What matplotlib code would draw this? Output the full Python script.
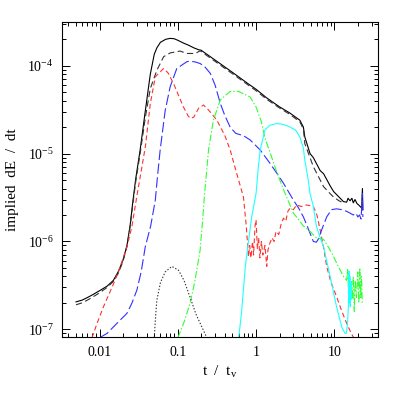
import numpy as np
import matplotlib
matplotlib.use('Agg')
import matplotlib.pyplot as plt
from matplotlib.ticker import LogLocator, FuncFormatter, NullFormatter

# total (solid black)
t_tot = [0.005, 0.006, 0.007, 0.008, 0.01, 0.0125, 0.015, 0.0175, 0.02, 0.0224, 0.0245, 0.0267, 0.029,
         0.033, 0.0385, 0.0445, 0.05, 0.054, 0.06, 0.07, 0.08, 0.09, 0.1, 0.12, 0.136, 0.16, 0.185,
         0.2, 0.21, 0.3, 0.5, 0.8, 1.0, 1.37, 2.0, 2.7, 3.3, 3.63, 4.03, 4.2, 4.9, 5.4, 6.6,
         7.3, 8.85, 9.8, 11.9, 13.1, 14.4, 15.0, 15.9, 16.8, 17.5, 18.4, 19.5, 20.5, 21.4,
         22.4, 22.9, 23.2]
e_tot = [2.05e-7, 2.15e-7, 2.3e-7, 2.45e-7, 2.75e-7, 3.1e-7, 3.6e-7, 4.6e-7, 6.2e-7, 9.0e-7, 1.5e-6, 2.9e-6, 5.2e-6,
         1.1e-5, 3.1e-5, 8.0e-5, 1.35e-4, 1.6e-4, 1.85e-4, 2.0e-4, 2.05e-4, 2.03e-4, 1.95e-4, 1.8e-4, 1.72e-4, 1.6e-4, 1.52e-4,
         1.5e-4, 1.45e-4, 1.16e-4, 8.4e-5, 6.2e-5, 5.4e-5, 4.3e-5, 3.4e-5, 2.9e-5, 2.55e-5, 2.4e-5, 2.0e-5, 1.55e-5, 1.0e-5, 9.0e-6, 6.4e-6,
         5.9e-6, 4.3e-6, 3.7e-6, 3.1e-6, 2.84e-6, 2.8e-6, 3.1e-6, 2.9e-6, 3.1e-6, 2.75e-6, 3.0e-6, 2.7e-6, 2.6e-6, 2.5e-6,
         2.4e-6, 4.0e-6, 2.3e-6]

# black dashed
t_bd = [0.005, 0.006, 0.007, 0.008, 0.01, 0.0125, 0.015, 0.0175, 0.02, 0.0224, 0.0245, 0.0267, 0.029,
        0.033, 0.0385, 0.0445, 0.054, 0.066, 0.08, 0.107, 0.13, 0.167, 0.193, 0.3, 0.5, 0.8, 1.0,
        1.37, 2.0, 2.7, 3.3, 3.63, 4.03, 4.2, 5.4, 7.3, 8.85, 9.8, 11.5, 12.5]
e_bd = [1.9e-7, 2.0e-7, 2.15e-7, 2.3e-7, 2.6e-7, 3.0e-7, 3.5e-7, 4.4e-7, 6.0e-7, 8.8e-7, 1.45e-6, 2.7e-6, 4.8e-6,
        1.0e-5, 2.6e-5, 5.5e-5, 8.9e-5, 1.27e-4, 1.4e-4, 1.47e-4, 1.38e-4, 1.38e-4, 1.48e-4, 1.12e-4, 8.1e-5, 6.0e-5, 5.2e-5,
        4.15e-5, 3.3e-5, 2.8e-5, 2.45e-5, 2.3e-5, 1.9e-5, 1.3e-5, 7.1e-6, 4.2e-6, 3.5e-6, 3.2e-6, 2.9e-6, 2.8e-6]

# red short dashed
t_red = [0.008, 0.0093, 0.0112, 0.0151, 0.0184, 0.0224, 0.0259, 0.0294, 0.0385, 0.0445, 0.0516,
         0.0657, 0.075, 0.088, 0.1, 0.118, 0.135, 0.144, 0.16, 0.185, 0.213, 0.25, 0.316, 0.4,
         0.467, 0.55, 0.69, 0.75, 0.8, 0.83, 0.86, 0.9, 0.93, 0.97, 1.0, 1.04, 1.08, 1.12, 1.17,
         1.22, 1.3, 1.37, 1.42, 1.5, 1.6, 1.7, 1.8, 1.95, 2.1, 2.24, 2.4, 2.55, 2.73, 3.0, 3.3,
         3.8, 4.4, 5.0, 5.4, 6.0, 6.6, 7.3, 8.0, 9.0, 10.7, 12.5, 14.4, 16.0, 17.7]
e_red = [8.0e-8, 1.17e-7, 1.8e-7, 3.3e-7, 5.2e-7, 8.7e-7, 1.48e-6, 2.96e-6, 1.2e-5, 3.7e-5, 7.5e-5,
         9.3e-5, 8.3e-5, 6.3e-5, 4.8e-5, 3.4e-5, 2.7e-5, 2.52e-5, 2.6e-5, 3.3e-5, 3.57e-5, 3.1e-5, 2.4e-5, 1.6e-5,
         1.1e-5, 6.5e-6, 3.2e-6, 1.5e-6, 6.7e-7, 9.0e-7, 6.5e-7, 1.0e-6, 7.0e-7, 1.5e-6, 1.76e-6, 8.3e-7, 1.1e-6, 6.5e-7, 1.0e-6,
         7.0e-7, 9.0e-7, 5.2e-7, 8.0e-7, 9.5e-7, 1.1e-6, 1.0e-6, 1.3e-6, 1.2e-6, 1.6e-6, 1.84e-6, 1.7e-6, 2.2e-6, 2.4e-6, 2.3e-6, 2.6e-6,
         2.5e-6, 2.6e-6, 2.55e-6, 2.5e-6, 2.0e-6, 1.35e-6, 8.5e-7, 5.2e-7, 3.5e-7, 2.35e-7, 1.6e-7, 1.17e-7, 9.5e-8, 8.0e-8]

# blue long dashed
t_blue = [0.01, 0.0125, 0.0167, 0.0224, 0.026, 0.03, 0.034, 0.0384, 0.045, 0.0516, 0.055, 0.0595,
          0.069, 0.08, 0.097, 0.13, 0.144, 0.17, 0.193, 0.22, 0.26, 0.3, 0.35, 0.4, 0.467, 0.55,
          0.69, 0.84, 1.13, 1.5, 1.84, 2.24, 3.0, 3.5, 4.03, 4.5, 4.9, 5.4, 5.9, 6.2, 7.0, 8.0,
          9.2, 10.7, 12.5, 14.4, 15.9, 17.5, 18.9, 20.0, 21.0, 22.0, 22.9, 23.2]
e_blue = [8.0e-8, 9.0e-8, 1.17e-7, 1.52e-7, 2.0e-7, 2.8e-7, 4.5e-7, 8.7e-7, 1.5e-6, 2.96e-6, 5.5e-6, 1.1e-5,
          3.1e-5, 5.8e-5, 9.3e-5, 1.11e-4, 1.13e-4, 1.1e-4, 1.06e-4, 9.8e-5, 8.2e-5, 6.0e-5, 3.7e-5, 2.7e-5, 2.0e-5, 1.7e-5,
          1.6e-5, 1.43e-5, 1.1e-5, 7.8e-6, 6.0e-6, 4.6e-6, 2.96e-6, 2.4e-6, 1.9e-6, 1.5e-6, 1.24e-6, 1.0e-6, 9.8e-7, 1.05e-6, 1.4e-6, 1.9e-6,
          2.3e-6, 2.35e-6, 2.3e-6, 2.2e-6, 2.1e-6, 2.0e-6, 2.1e-6, 1.9e-6, 2.0e-6, 1.8e-6, 3.5e-6, 1.9e-6]

# green dash-dot
t_green = [0.1, 0.12, 0.144, 0.165, 0.193, 0.21, 0.22, 0.247, 0.285, 0.35, 0.467, 0.6, 0.84, 1.0,
           1.17, 1.3, 1.5, 1.8, 2.24, 3.0, 3.63, 4.03, 4.9, 5.9, 7.3, 8.5, 9.8, 11.5, 13.1, 14.4,
           14.8, 15.2, 15.6, 16.0, 16.5, 17.0, 17.5, 18.0, 18.5, 19.2, 20.0, 20.6, 21.2, 21.8,
           22.3, 22.8]
e_green = [8.0e-8, 1.2e-7, 2.0e-7, 3.5e-7, 8.0e-7, 2.0e-6, 3.5e-6, 1.1e-5, 2.4e-5, 4.1e-5, 5.1e-5, 5.1e-5, 4.4e-5, 3.4e-5,
           2.3e-5, 1.5e-5, 1.05e-5, 6.5e-6, 3.9e-6, 2.1e-6, 1.7e-6, 1.5e-6, 1.3e-6, 1.1e-6, 1.05e-6, 8.5e-7, 6.7e-7, 5.0e-7, 4.0e-7, 3.6e-7,
           4.8e-7, 2.8e-7, 4.2e-7, 3.0e-7, 3.5e-7, 2.2e-7, 4.0e-7, 1.6e-7, 3.6e-7, 2.3e-7, 4.5e-7, 2.0e-7, 5.0e-7, 2.3e-7,
           4.0e-7, 2.0e-7]

# cyan
t_cyan = [0.6, 0.65, 0.73, 0.8, 0.88, 1.0, 1.07, 1.13, 1.3, 1.5, 1.84, 2.24, 2.73, 3.2, 3.63, 4.03,
          4.2, 4.65, 4.9, 5.4, 5.9, 6.6, 7.3, 8.85, 10.7, 12.5, 13.7, 14.3, 14.8, 15.2, 15.4, 15.6,
          15.8, 16.0, 16.3, 16.6]
e_cyan = [8.0e-8, 1.5e-7, 5.2e-7, 1.0e-6, 1.9e-6, 3.5e-6, 7.0e-6, 1.1e-5, 1.86e-5, 2.1e-5, 2.2e-5, 2.15e-5, 2.0e-5, 1.85e-5, 1.55e-5, 1.15e-5,
          8.4e-6, 5.0e-6, 3.5e-6, 2.5e-6, 1.5e-6, 1.1e-6, 8.7e-7, 4.0e-7, 1.8e-7, 1.05e-7, 9.0e-8, 9.0e-8, 1.2e-7, 2.0e-7, 4.6e-7, 2.0e-7,
          4.0e-7, 1.8e-7, 3.5e-7, 2.2e-7]

# black dotted
t_dot = [0.05, 0.052, 0.054, 0.06, 0.069, 0.084, 0.102, 0.12, 0.144, 0.17, 0.193, 0.235]
e_dot = [8.0e-8, 1.4e-7, 2.16e-7, 3.4e-7, 4.5e-7, 5.2e-7, 4.7e-7, 3.6e-7, 2.3e-7, 1.5e-7, 1.17e-7, 8.0e-8]

plt.rcParams['font.family'] = ['Liberation Serif', 'DejaVu Serif']
plt.rcParams['mathtext.fontset'] = 'custom'
plt.rcParams['mathtext.rm'] = 'Liberation Serif'
plt.rcParams['mathtext.it'] = 'Liberation Serif:italic'
plt.rcParams['lines.scale_dashes'] = False

fig = plt.figure(figsize=(3.99, 3.99), dpi=100)
ax = fig.add_axes([0.1554, 0.1546, 0.791, 0.790])

lw = 0.8
ax.plot(t_tot, e_tot, color='black', lw=lw)
ax.plot(t_bd, e_bd, color='#333333', lw=lw, dashes=(4.5, 2.5))
ax.plot(t_red, e_red, color='#ff3030', lw=lw, dashes=(3.5, 2.2))
ax.plot(t_blue, e_blue, color='#3030ff', lw=lw, dashes=(7.5, 2.5))
ax.plot(t_green, e_green, color='#30ff30', lw=lw, dashes=(5, 1.5, 1, 1.5))
ax.plot(t_cyan, e_cyan, color='#20ffff', lw=lw)
ax.plot(t_dot, e_dot, color='#333333', lw=lw, dashes=(1, 1.3))

ax.set_xscale('log')
ax.set_yscale('log')
ax.set_xlim(0.00331, 35.8)
ax.set_ylim(8.1e-8, 3.14e-4)

ax.xaxis.set_major_locator(LogLocator(base=10, numticks=10))
ax.xaxis.set_minor_locator(LogLocator(base=10, subs=np.arange(2, 10), numticks=20))
ax.yaxis.set_major_locator(LogLocator(base=10, numticks=10))
ax.yaxis.set_minor_locator(LogLocator(base=10, subs=np.arange(2, 10), numticks=20))
ax.xaxis.set_major_formatter(FuncFormatter(lambda v, p: '%g' % v))
ax.yaxis.set_major_formatter(FuncFormatter(lambda v, p: r'$10^{%d}$' % round(np.log10(v))))
ax.xaxis.set_minor_formatter(NullFormatter())
ax.yaxis.set_minor_formatter(NullFormatter())

ax.tick_params(which='both', direction='in', top=True, right=True, width=0.7, labelsize=10)
ax.tick_params(which='major', length=5.8)
ax.tick_params(which='minor', length=2.9)
ax.tick_params(axis='x', which='major', pad=6)
ax.tick_params(axis='y', which='major', pad=6)
for s in ax.spines.values():
    s.set_linewidth(0.8)

ax.set_xlabel(r't  /  t$_{\rm v}$', fontsize=11, labelpad=4)
ax.set_ylabel('implied  dE  /  dt', fontsize=11, labelpad=6)

fig.savefig('out.png', dpi=100)
